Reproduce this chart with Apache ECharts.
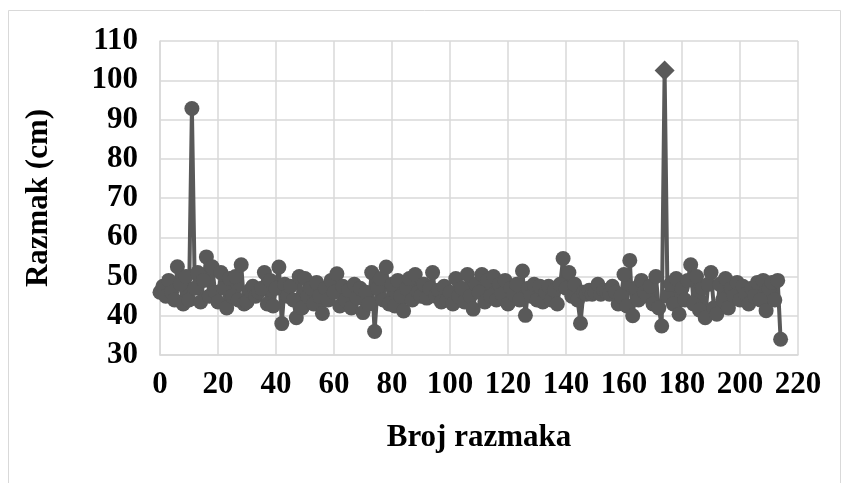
<!DOCTYPE html>
<html>
<head>
<meta charset="utf-8">
<script src="https://cdn.jsdelivr.net/npm/echarts@6/dist/echarts.min.js"></script>
<style>html,body{margin:0;padding:0;background:#fff}#c{width:849px;height:483px}</style>
</head>
<body>
<div id="c"></div>
<script>
const xTitle = 'Broj razmaka';
const yTitle = 'Razmak (cm)';
const xTicks = [0, 20, 40, 60, 80, 100, 120, 140, 160, 180, 200, 220];
const yTicks = [30, 40, 50, 60, 70, 80, 90, 100, 110];
const razmak = [
  46, 47.5, 45, 49, 46, 44, 52.5, 48, 43, 50,
  44, 92.8, 47, 51, 43.5, 49, 55, 45, 52.5, 46,
  43.5, 51, 47, 42, 49.5, 45, 50, 44, 53, 43,
  43.5, 46.5, 47.5, 45, 46, 47, 51, 43, 49, 42.5,
  47, 52.4, 38, 48, 45, 47.5, 44, 39.5, 50, 42,
  49.5, 45, 47, 43, 48.5, 45, 40.6, 47, 44, 49,
  46, 50.7, 42.5, 47.5, 44, 46.5, 42, 48, 44.5, 47,
  40.8, 46, 43, 51, 36, 47, 49.5, 44, 52.4, 43,
  48, 42.5, 49, 45, 41.2, 47, 49.5, 44, 50.5, 46,
  45, 48, 44.5, 47, 51, 45, 46.5, 43.5, 47.5, 44,
  46, 43, 49.5, 45, 47, 43.5, 50.5, 45, 41.7, 48,
  46, 50.5, 43.5, 49, 45, 50, 44, 48, 45.5, 49,
  43, 47, 45.5, 48, 44, 51.4, 40.1, 47, 45, 48,
  44, 47.5, 43.5, 46, 47.5, 44, 46.5, 43, 48, 54.6,
  47, 51, 45, 48, 44, 38.1, 46, 45.5, 46.5, 45.5,
  46, 48, 45.5, 46.5, 46, 45.5, 47.5, 46, 43, 45,
  50.5, 42.5, 54.1, 40, 47, 44, 49, 46, 45, 47.5,
  43, 50, 42, 37.4, 102.5, 45, 48, 43, 49.5, 40.4,
  47, 44, 49, 53, 43, 50, 41.5, 47, 39.5, 48,
  51, 42, 40.4, 48, 44, 49.5, 42, 47, 45, 48.5,
  44, 47.5, 45.5, 43, 47, 45, 48.5, 44, 49, 41.3,
  47, 48.5, 44, 49, 34
];
const maxIndex = 174;

const data = razmak.map((v, i) => i === maxIndex
  ? { value: [i, v], symbol: 'diamond', symbolSize: 20 }
  : [i, v]);

const font = 'Liberation Serif, Times New Roman, serif';
const chart = echarts.init(document.getElementById('c'), null, { renderer: 'canvas' });
chart.setOption({
  animation: false,
  backgroundColor: '#ffffff',
  graphic: [{
    type: 'rect', silent: true,
    shape: { x: 8.5, y: 10.5, width: 832, height: 500 },
    style: { fill: 'none', stroke: '#d9d9d9', lineWidth: 1 }
  }],
  grid: { left: 160, right: 51, top: 41, bottom: 128 },
  xAxis: {
    type: 'value', min: xTicks[0], max: xTicks[xTicks.length - 1], interval: 20,
    name: xTitle, nameLocation: 'middle', nameGap: 67,
    nameTextStyle: { fontFamily: font, fontWeight: 'bold', fontSize: 31, color: '#000' },
    axisLine: { show: true, lineStyle: { color: '#d9d9d9', width: 1.5 } },
    axisTick: { show: false },
    axisLabel: { fontFamily: font, fontWeight: 'bold', fontSize: 31, color: '#000', margin: 14 },
    splitLine: { show: true, lineStyle: { color: '#d9d9d9', width: 1.5 } }
  },
  yAxis: {
    type: 'value', min: yTicks[0], max: yTicks[yTicks.length - 1], interval: 10,
    name: yTitle, nameLocation: 'middle', nameGap: 106, nameRotate: 90,
    nameTextStyle: { fontFamily: font, fontWeight: 'bold', fontSize: 31, color: '#000' },
    axisLine: { show: true, lineStyle: { color: '#d9d9d9', width: 1.5 } },
    axisTick: { show: false },
    axisLabel: { fontFamily: font, fontWeight: 'bold', fontSize: 31, color: '#000', margin: 22 },
    splitLine: { show: true, lineStyle: { color: '#d9d9d9', width: 1.5 } }
  },
  series: [{
    type: 'line',
    data: data,
    symbol: 'circle',
    symbolSize: 15,
    showAllSymbol: true,
    lineStyle: { color: '#595959', width: 4 },
    itemStyle: { color: '#595959' }
  }]
});
</script>
</body>
</html>
